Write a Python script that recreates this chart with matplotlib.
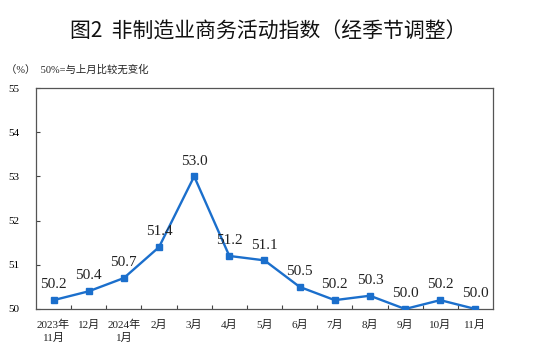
import matplotlib.pyplot as plt

months = ["2023年\n11月", "12月", "2024年\n1月", "2月", "3月", "4月", "5月",
          "6月", "7月", "8月", "9月", "10月", "11月"]
values = [50.2, 50.4, 50.7, 51.4, 53.0, 51.2, 51.1, 50.5, 50.2, 50.3, 50.0, 50.2, 50.0]
yticks = [50, 51, 52, 53, 54, 55]

serif = ["Liberation Serif", "Noto Sans CJK SC"]
cjk = ["Noto Sans CJK SC", "DejaVu Sans"]
blue = "#1b6fcc"

fig = plt.figure(figsize=(5.37, 3.57), dpi=100)
ax = fig.add_axes([0.067, 0.1345, 0.851, 0.619])

x = list(range(len(values)))
ax.plot(x, values, color=blue, lw=1.7, marker="s", ms=4, zorder=3)
for xi, v in zip(x, values):
    ax.text(xi, v + 0.2, f"{v:.1f}", ha="center", va="bottom",
            fontsize=11, family=serif, color="#222222")

ax.set_xlim(-0.5, len(values) - 0.5)
ax.set_ylim(50, 55)
ax.set_yticks(yticks)
ax.set_yticklabels([str(t) for t in yticks], family=serif, fontsize=8)
ax.tick_params(axis="y", direction="in", length=3, pad=12, color="#444444")

# category ticks sit on the bin edges
ax.set_xticks([i - 0.5 for i in range(1, len(values))])
ax.set_xticklabels([])
ax.tick_params(axis="x", direction="in", length=3, color="#444444")
for xi, lab in zip(x, months):
    ax.text(xi, 49.75, lab, ha="center", va="top", fontsize=8,
            family=serif, linespacing=1.35, color="#222222")

for s in ax.spines.values():
    s.set_color("#555555")
    s.set_linewidth(0.9)

fig.text(0.5, 0.91, "图2  非制造业商务活动指数（经季节调整）", ha="center", va="center",
         fontsize=15, family=cjk, color="#111111")
fig.text(0.012, 0.805, "（%）  50%=与上月比较无变化", ha="left", va="center",
         fontsize=7.5, family=["Liberation Serif", "Noto Sans CJK SC"], color="#222222")

fig.savefig("out.png", dpi=100)
